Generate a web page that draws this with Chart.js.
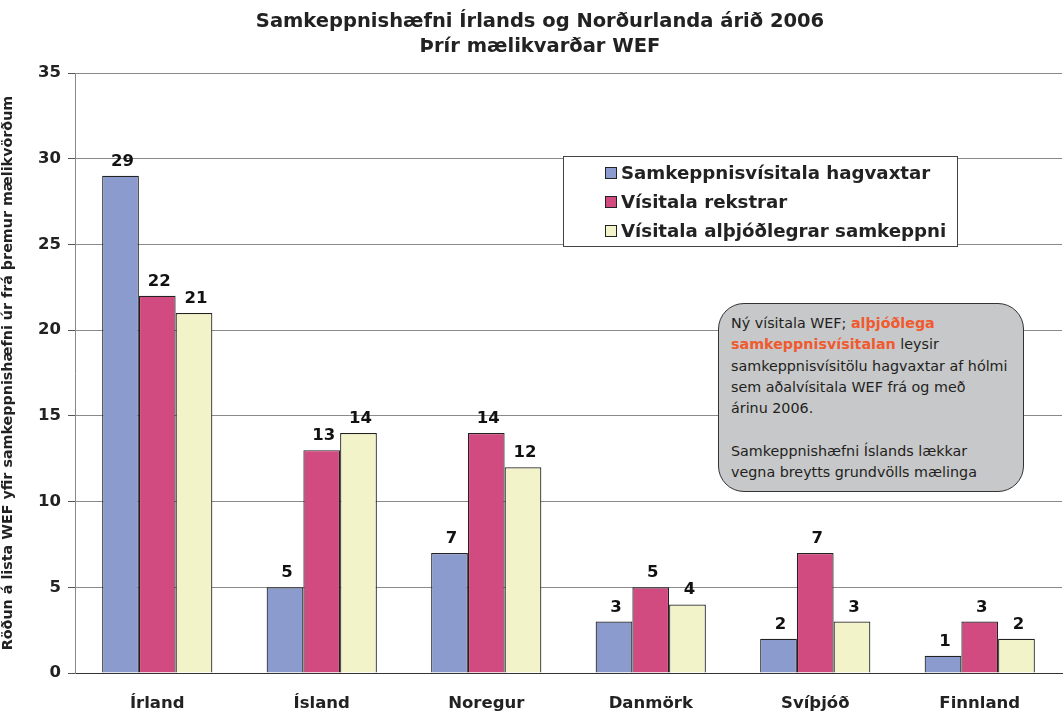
<!DOCTYPE html>
<html><head><meta charset="utf-8">
<script src="https://cdn.jsdelivr.net/npm/chart.js@4"></script>
<style>
html,body{margin:0;padding:0;background:#fff;}
#wrap{position:relative;width:1064px;height:713px;}
#note{position:absolute;left:718px;top:303px;width:284px;height:166px;padding:9px 8px 12px 12px;
 background:#c7c8ca;border:1.5px solid #333;border-radius:26px;font:14.3px "DejaVu Sans",sans-serif;
 color:#231f20;line-height:21.3px;white-space:nowrap;}
#note b{color:#ef5a2f;}
</style></head>
<body><div id="wrap"><canvas id="c" width="1064" height="713"></canvas>
<div id="note">Ný vísitala WEF; <b>alþjóðlega</b><br><b>samkeppnisvísitalan</b> leysir<br>samkeppnisvísitölu hagvaxtar af hólmi<br>sem aðalvísitala WEF frá og með<br>árinu 2006.<br><br>Samkeppnishæfni Íslands lækkar<br>vegna breytts grundvölls mælinga</div>
</div>
<script>
const categories = ["Írland","Ísland","Noregur","Danmörk","Svíþjóð","Finnland"];
const seriesNames = ["Samkeppnisvísitala hagvaxtar","Vísitala rekstrar","Vísitala alþjóðlegrar samkeppni"];
const hagvaxtar = [29,5,7,3,2,1];
const rekstrar = [22,13,14,5,7,3];
const althjodleg = [21,14,12,4,3,2];
const yTicks = [0,5,10,15,20,25,30,35];
const titleLines = ["Samkeppnishæfni Írlands og Norðurlanda árið 2006","Þrír mælikvarðar WEF"];
const yTitle = "Röðun á lista WEF yfir samkeppnishæfni úr frá þremur mælikvörðum";
const colors = ["#8c9bcd","#d24b80","#f3f3ca"];

const FONT = '"DejaVu Sans", sans-serif';

const extras = {
  id:'extras',
  afterDatasetsDraw(chart){
    const ctx = chart.ctx;
    ctx.save();
    ctx.font = 'bold 16.5px ' + FONT;
    ctx.fillStyle = '#111';
    ctx.textAlign = 'center';
    ctx.textBaseline = 'bottom';
    chart.data.datasets.forEach((ds,i)=>{
      chart.getDatasetMeta(i).data.forEach((bar,j)=>{
        ctx.fillText(String(ds.data[j]), bar.x + 2, bar.y - 6);
      });
    });
    // titles
    ctx.font = 'bold 19.5px ' + FONT;
    ctx.fillStyle = '#222';
    ctx.textBaseline = 'middle';
    ctx.fillText(titleLines[0], 540, 22);
    ctx.fillText(titleLines[1], 540, 47);
    // legend
    const lx=563, ly=156, lw=394, lh=90;
    ctx.fillStyle='#fff';
    ctx.fillRect(lx,ly,lw,lh);
    ctx.strokeStyle='#444'; ctx.lineWidth=1;
    ctx.strokeRect(lx+0.5,ly+0.5,lw,lh);
    ctx.font = 'bold 18.2px ' + FONT;
    ctx.textAlign='left';
    chart.data.datasets.forEach((ds,i)=>{
      const y = ly + 17 + i*29;
      ctx.fillStyle = ds.backgroundColor;
      ctx.fillRect(605, y-6, 12, 12);
      ctx.strokeStyle='#222';
      ctx.strokeRect(605.5, y-5.5, 11, 11);
      ctx.fillStyle='#222';
      ctx.fillText(ds.label, 621, y+1);
    });
    ctx.restore();
  }
};

new Chart(document.getElementById('c'), {
  type:'bar',
  data:{
    labels: categories,
    datasets:[
      {label:seriesNames[0], data:hagvaxtar, backgroundColor:colors[0]},
      {label:seriesNames[1], data:rekstrar, backgroundColor:colors[1]},
      {label:seriesNames[2], data:althjodleg, backgroundColor:colors[2]}
    ].map(d=>Object.assign(d,{borderColor:'#222',borderWidth:1.2,borderSkipped:'bottom',categoryPercentage:0.67,barPercentage:1}))
  },
  options:{
    responsive:false, animation:false,
    layout:{padding:{top:73,right:2,left:0,bottom:0}},
    plugins:{legend:{display:false},title:{display:false},tooltip:{enabled:false}},
    scales:{
      x:{
        grid:{display:false},
        border:{color:'#333',width:1},
        ticks:{font:{family:FONT,size:16.5,weight:'bold'},color:'#222',padding:13,maxRotation:0},
        afterFit(s){s.height=40;}
      },
      y:{
        min:0,max:35,
        afterBuildTicks(s){s.ticks = yTicks.map(v=>({value:v}));},
        grid:{color:'#8a8a8a',lineWidth:1,tickLength:7,tickColor:'#555'},
        border:{color:'#888',width:1},
        ticks:{font:{family:FONT,size:16.5,weight:'bold'},color:'#222',padding:7},
        title:{display:true,text:yTitle,font:{family:FONT,size:14.3,weight:'bold'},color:'#222',padding:{top:0,bottom:2}},
        afterFit(s){s.width=75;}
      }
    }
  },
  plugins:[extras]
});
</script>
</body></html>
